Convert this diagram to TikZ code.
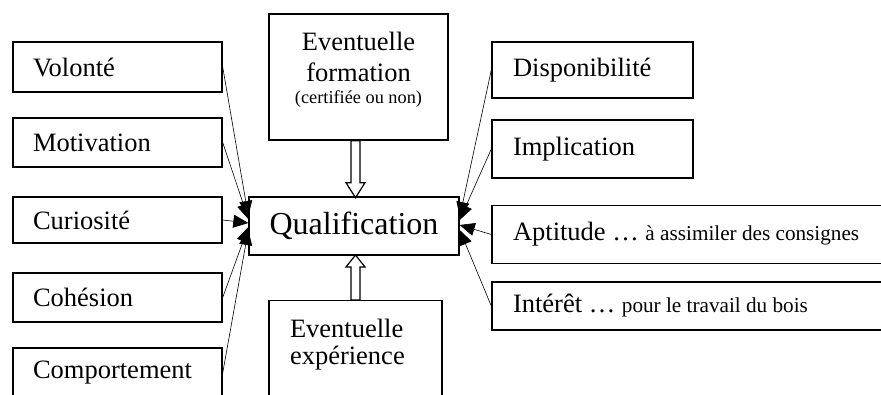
\documentclass[tikz,border=0pt]{standalone}
\usepackage{fontspec}
\setmainfont{Liberation Serif}
\usetikzlibrary{arrows.meta, calc}

\newcommand{\normalpt}{\fontsize{13.25pt}{15.5pt}\selectfont}
\newcommand{\smallpt}{\fontsize{10.6pt}{12.5pt}\selectfont}

\tikzset{
  box/.style={draw, line width=0.7pt, inner xsep=10pt, align=flush left},
  leftbox/.style={box, text width=84.5pt},
  rightbox/.style={box, inner xsep=10.5pt, text width=79.5pt},
  longbox/.style={box, inner xsep=10.5pt, text width=183pt},
  feed/.style={line width=0.3pt, -{Triangle[length=7.5pt,width=6.5pt]}},
  hollow/.style={draw, fill=white, line width=0.6pt},
}

\begin{document}
\begin{tikzpicture}[x=0.5pt, y=-0.5pt, font=\normalpt]
  \useasboundingbox (0,0) rectangle (881,395);
  \clip (0,0) rectangle (881,395);

  \node[leftbox, minimum height=25pt] (vol) at (117.5,67) {Volonté};
  \node[leftbox, minimum height=24.5pt] (mot) at (117.5,142.5) {Motivation};
  \node[leftbox, minimum height=23pt] (cur) at (117.5,220) {Curiosité};
  \node[leftbox, minimum height=24.5pt] (coh) at (117.5,297.5) {Cohésion};
  \node[leftbox, minimum height=25pt] (comp) at (117.5,373) {Comportement};

  \node[rightbox, minimum height=28pt] (disp) at (592.5,70) {Disponibilité};
  \node[rightbox, minimum height=29pt] (impl) at (592.5,149) {Implication};
  \node[longbox, minimum height=29pt] (apt) at (696,234.5)
    {Aptitude … {\smallpt à assimiler des consignes}};
  \node[longbox, minimum height=24pt] (int) at (696,306)
    {Intérêt … {\smallpt pour le travail du bois}};

  \node[draw, line width=0.7pt, minimum width=105pt, minimum height=29pt,
    font=\fontsize{16pt}{19pt}\selectfont] (qual) at (354,226) {Qualification};

  \node[draw, line width=0.7pt, minimum width=89.5pt, minimum height=63pt,
    align=center] (form) at (358.5,77)
    {Eventuelle\\formation\\[-4.5pt]{\fontsize{9.15pt}{11pt}\selectfont (certifiée ou non)}\\[-6pt]\mbox{}};

  \node[box, anchor=north, inner xsep=10.5pt, inner ysep=9pt, text width=65.5pt]
    (exp) at (355.5,300) {Eventuelle\\[-2pt]expérience\\\strut\\\strut};

  \draw[feed] (vol.east) -- ($(qual.west)+(0,-10)$);
  \draw[feed] (mot.east) -- ($(qual.west)+(0,-7)$);
  \draw[feed] (cur.east) -- ($(qual.west)+(0,-3)$);
  \draw[feed] (coh.east) -- ($(qual.west)+(0,1)$);
  \draw[feed] (comp.east) -- ($(qual.west)+(0,4)$);

  \draw[feed] (disp.west) -- ($(qual.east)+(0,-9)$);
  \draw[feed] (impl.west) -- ($(qual.east)+(0,-6)$);
  \draw[feed] (apt.west) -- ($(qual.east)+(0,-1)$);
  \draw[feed] (int.west) -- ($(qual.east)+(0,4)$);

  \draw[hollow] (form.south) ++(-7.5,0) -- ++(0,42) -- ++(-5,0) -- ++(9.5,15)
    -- ++(9.5,-15) -- ++(-5,0) -- ++(0,-42) -- cycle;
  \draw[hollow] (exp.north) ++(-4.5,0) -- ++(0,-33) -- ++(-5,0) -- ++(9.5,-12)
    -- ++(9.5,12) -- ++(-5,0) -- ++(0,33) -- cycle;
\end{tikzpicture}
\end{document}
